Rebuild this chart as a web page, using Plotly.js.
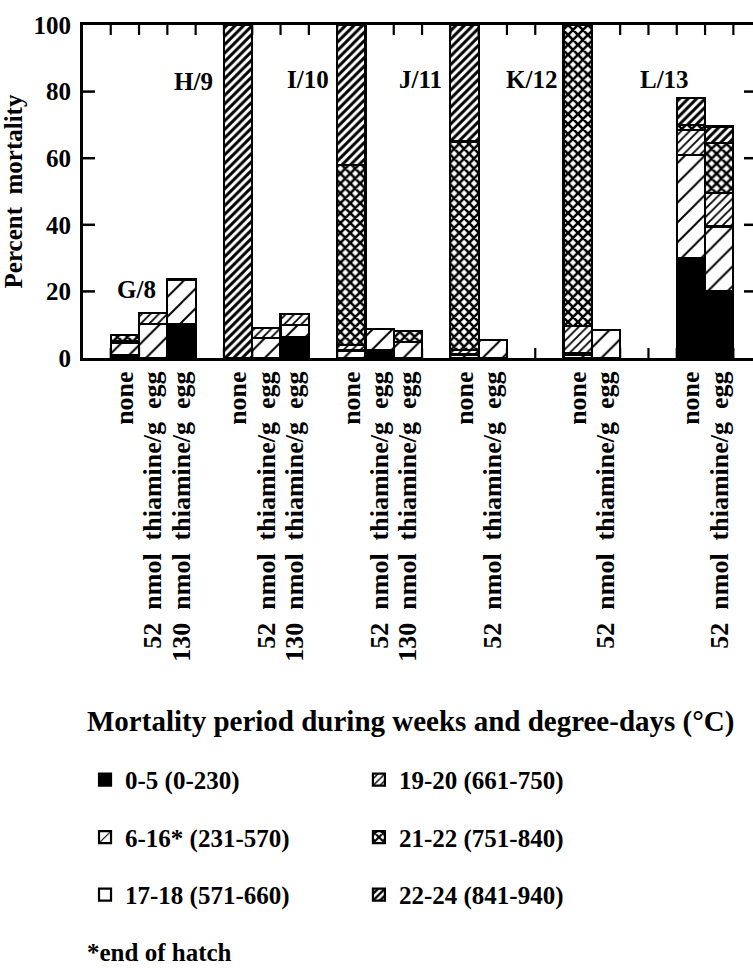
<!DOCTYPE html>
<html><head><meta charset="utf-8">
<script src="https://cdn.plot.ly/plotly-3.0.1.min.js"></script>
<style>html,body{margin:0;padding:0;overflow:hidden;background:#fff}</style>
</head><body><div id="chart" style="width:756px;height:973px"></div>
<script>
// ---- data ----
const groups = ['G/8', 'H/9', 'I/10', 'J/11', 'K/12', 'L/13'];
const treatments = ['none', '52  nmol  thiamine/g  egg', '130  nmol  thiamine/g  egg'];
const barGroup     = [0, 0, 0, 1, 1, 1, 2, 2, 2, 3, 3, 4, 4, 5, 5];
const barTreatment = [0, 1, 2, 0, 1, 2, 0, 1, 2, 0, 1, 0, 1, 0, 1];
const periods = ['0-5 (0-230)', '6-16* (231-570)', '17-18 (571-660)',
                 '19-20 (661-750)', '21-22 (751-840)', '22-24 (841-940)'];
// percent mortality per period, one value per bar (order of barGroup)
const weeks0to5   = [1.0, 0, 10.3, 0, 0, 6.3, 0, 2.3, 0, 0, 0, 0, 0, 30, 20];
const weeks6to16  = [3.5, 10.3, 13.3, 0, 6.0, 3.6, 2.0, 6.3, 4.8, 0.8, 5.5, 1.0, 8.4, 31, 19.5];
const weeks17to18 = [0.5, 0, 0, 0, 0, 0, 0.5, 0, 0, 0.4, 0, 0.5, 0, 0, 0];
const weeks19to20 = [0, 3.2, 0, 0, 2.9, 3.3, 1.3, 0, 0, 1.2, 0, 8.2, 0, 7.5, 10];
const weeks21to22 = [2.0, 0, 0, 0, 0, 0, 54.2, 0, 3.2, 62.6, 0, 90.3, 0, 1.5, 15];
const weeks22to24 = [0, 0, 0, 100, 0, 0, 42, 0, 0, 35, 0, 0, 0, 8, 5];
const seriesValues = [weeks0to5, weeks6to16, weeks17to18, weeks19to20, weeks21to22, weeks22to24];
const yTickValues = [20, 40, 60, 80];

// ---- layout helpers ----
const SLOTS_PER_GROUP = 4;
const xPos = barGroup.map((g, i) => g * SLOTS_PER_GROUP + barTreatment[i]);
const FONT = 'Liberation Serif, Times New Roman, serif';
const xRange = [-1.48, 22.3];
const PLOT_W = 756 - 83;
const PLOT_H = 973 - 25 - 615;
const slotPx = PLOT_W / (xRange[1] - xRange[0]);
// ticks sit on slot edges; each label is shifted half a slot onto its bar
const slotEdges = [];
const edgeText = [];
for (let v = -0.5; v < xRange[1]; v += 1) {
  slotEdges.push(v);
  const idx = xPos.indexOf(v + 0.5);
  edgeText.push(idx >= 0 ? treatments[barTreatment[idx]] : '');
}

const styles = [
  {color: '#000000'},
  {color: '#ffffff', pattern: {shape: '/', size: 14, solidity: 0.14, fgcolor: '#000000'}},
  {color: '#ffffff'},
  {color: '#ffffff', pattern: {shape: '/', size: 6, solidity: 0.3, fgcolor: '#000000'}},
  {color: '#ffffff', pattern: {shape: 'x', size: 7, solidity: 0.6, fgcolor: '#000000'}},
  {color: '#ffffff', pattern: {shape: '/', size: 6, solidity: 0.5, fgcolor: '#000000'}}
];

const traces = seriesValues.map((vals, k) => ({
  type: 'bar', name: periods[k], x: xPos, y: vals, width: 1,
  legend: k < 3 ? 'legend' : 'legend2', legendgroup: 'p' + k,
  marker: Object.assign({line: {color: '#000', width: 2.2}}, styles[k]),
  hoverinfo: 'name+y'
}));

const groupLabelPos = [[0.42, 20.5], [2.44, 83], [6.47, 83.5], [10.46, 83.5], [14.35, 83.5], [19.05, 83.5]];
const bold = (size) => ({family: FONT, size: size, weight: 'bold', color: '#000'});
const annotations = groups.map((g, i) => ({
  text: g, x: groupLabelPos[i][0], y: groupLabelPos[i][1], xref: 'x', yref: 'y',
  showarrow: false, font: bold(25)
}));
annotations.push({text: 'Mortality period during weeks and degree-days (°C)', xref: 'paper', yref: 'paper',
  x: 0.003, y: -1.093, xanchor: 'left', yanchor: 'middle', showarrow: false, font: bold(29)});
annotations.push({text: '*end of hatch', xref: 'paper', yref: 'paper',
  x: 0.003, y: -1.784, xanchor: 'left', yanchor: 'middle', showarrow: false, font: bold(25)});

// inward tick marks on all four sides of the frame
const tickLine = {color: '#000', width: 2.2};
const xTickLen = 10 / PLOT_H, yTickLen = 12 / PLOT_W;
const shapes = [];
slotEdges.forEach(v => {
  shapes.push({type: 'line', layer: 'above', xref: 'x', yref: 'paper', x0: v, x1: v, y0: 0, y1: xTickLen, line: tickLine});
  shapes.push({type: 'line', layer: 'above', xref: 'x', yref: 'paper', x0: v, x1: v, y0: 1, y1: 1 - xTickLen, line: tickLine});
});
yTickValues.forEach(v => {
  shapes.push({type: 'line', layer: 'above', xref: 'paper', yref: 'y', x0: 0, x1: yTickLen, y0: v, y1: v, line: {color: '#000', width: 2.5}});
  shapes.push({type: 'line', layer: 'above', xref: 'paper', yref: 'y', x0: 1, x1: 1 - yTickLen, y0: v, y1: v, line: {color: '#000', width: 2.5}});
});

const legendCommon = {orientation: 'v', traceorder: 'grouped', tracegroupgap: 22,
  y: -1.198, yanchor: 'top', xanchor: 'left', bgcolor: 'rgba(0,0,0,0)', borderwidth: 0, font: bold(25)};

const layout = {
  width: 756, height: 973,
  margin: {l: 83, r: 0, t: 25, b: 615, autoexpand: false},
  barmode: 'stack', bargap: 0,
  font: {family: FONT, color: '#000'},
  showlegend: true,
  xaxis: {range: xRange, showgrid: false, zeroline: false, showline: true, linewidth: 3, linecolor: '#000', mirror: true,
    tickmode: 'array', tickvals: slotEdges, ticktext: edgeText, tickangle: -90, ticklabelshift: Math.round(slotPx / 2),
    ticks: '', tickfont: bold(26)},
  yaxis: {range: [0, 100], tickmode: 'array', tickvals: [0].concat(yTickValues, [100]),
    showgrid: false, zeroline: false, showline: true, linewidth: 3, linecolor: '#000', mirror: true,
    ticks: '', tickfont: bold(25), ticklabelstandoff: 4,
    title: {text: 'Percent  mortality', font: bold(25)}},
  legend: Object.assign({x: 0.003}, legendCommon),
  legend2: Object.assign({x: 0.41}, legendCommon),
  annotations: annotations,
  shapes: shapes
};

Plotly.newPlot('chart', traces, layout, {displayModeBar: false, staticPlot: true});
</script></body></html>
